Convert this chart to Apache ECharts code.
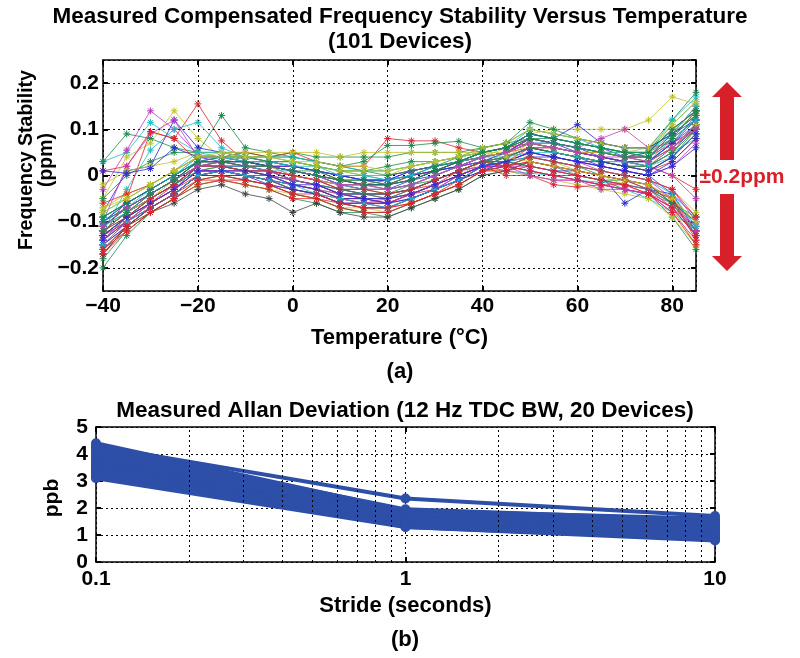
<!DOCTYPE html>
<html>
<head>
<meta charset="utf-8">
<script src="https://cdn.jsdelivr.net/npm/echarts@6/dist/echarts.min.js"></script>
<style>
html,body{margin:0;padding:0;background:#fff}
#main{width:800px;height:658px}
</style>
</head>
<body>
<div id="main"></div>
<script>
// (a) temperature sweep, one row per device (ppm)
var temps = [-40,-35,-30,-25,-20,-15,-10,-5,0,5,10,15,20,25,30,35,40,45,50,55,60,65,70,75,80,85];
var stability = [
	[-.17,-.11,-.07,-.04,.00, .01,.00,-.01,-.03,-.04, -.06,-.07,-.07,-.05,-.03, .00,.02,.04,.06,.05, .04,.02,.01,.00,-.04, -.12],
	[-.14,-.09,-.05,-.02,.02, .02,.02,.01,.00,-.01, -.03,-.03,-.04,-.02,-.01, .01,.03,.05,.07,.06, .05,.04,.03,.03,.07, .13],
	[-.12,-.08,-.04,-.01,.03, .03,.03,.02,.02,.01, -.01,-.02,-.02,.00,.01, .02,.04,.05,.08,.07, .06,.05,.04,.04,.09, .15],
	[-.10,-.06,-.03,.00,.04, .04,.04,.04,.03,.02, .01,.00,.00,.01,.02, .03,.05,.06,.09,.08, .07,.06,.05,.05,.11, .16],
	[-.15,-.10,-.06,-.03,.01, .01,.00,.00,-.02,-.03, -.05,-.06,-.05,-.04,-.02, .00,.02,.03,.05,.04, .03,.01,.00,-.01,-.05, -.13],
	[-.16,-.11,-.08,-.05,-.01, .00,-.01,-.02,-.04,-.05, -.07,-.08,-.08,-.06,-.04, -.02,.01,.02,.04,.03, .01,.00,-.02,-.03,-.07, -.15],
	[-.13,-.09,-.06,-.03,.02, .02,.02,.01,.00,-.01, -.02,-.03,-.03,-.02,.00, .02,.03,.04,.06,.05, .04,.03,.02,.02,.06, .11],
	[-.11,-.07,-.04,-.01,.03, .04,.03,.03,.02,.01, .00,-.01,-.01,.01,.02, .03,.05,.06,.09,.08, .07,.06,.04,.05,.10, .14],
	[-.18,-.12,-.08,-.05,-.02, -.01,-.02,-.03,-.05,-.06, -.08,-.08,-.09,-.07,-.05, -.03,.00,.01,.03,.02, .00,-.01,-.03,-.04,-.09, -.16],
	[-.14,-.10,-.06,-.02,.02, .03,.02,.01,-.01,-.02, -.04,-.04,-.05,-.03,-.02, .01,.03,.04,.06,.05, .04,.03,.02,.01,.04, .09],
	[.03,.05,.115,.08,.05, .04,.04,.03,.03,.02, .01,.01,.01,.02,.03, .04,.05,.06,.07,.06, .05,.04,.03,.03,.08, .12],
	[-.03,.055,.14,.10,.045, .04,.03,.03,.02,.01, .00,.00,.00,.01,.02, .03,.04,.05,.08,.07, .06,.05,.04,.04,.09, .13],
	[.03,.09,.08,.06,.05, .05,.05,.04,.05,.04, .04,.04,.04,.05,.05, .05,.06,.07,.10,.09, .08,.07,.06,.06,.12, .18],
	[.01,.02,.095,.08,.155, .075,.03,.02,.01,.00, -.01,-.02,-.01,.00,.01, .03,.04,.05,.07,.06, .05,.05,.05,.04,.07, .10],
	[-.05,.04,.07,.14,.08, .04,.03,.02,.01,.00, -.01,-.01,-.02,.00,.01, .03,.04,.06,.09,.10, .10,.10,.10,.12,.17, .155],
	[-.12,-.03,.055,.10,.115, .06,.04,.03,.02,.01, .00,-.01,-.01,.00,.01, .02,.03,.04,.06,.05, .04,.03,.03,.02,.05, .08],
	[-.05,.00,.03,.05,.05, .13,.06,.05,.04,.03, .02,.01,.02,.03,.03, .04,.05,.06,.09,.08, .07,.06,.05,.05,.08, .12],
	[-.08,.01,.02,.12,.06, .05,.04,.03,.02,.01, .00,-.01,-.01,.01,.02, .03,.04,.05,.08,.07, .06,.04,.03,.03,.06, .11],
	[-.10,.02,.09,.12,.04, .04,.03,.02,.02,.01, .00,.00,.00,.01,.02, .03,.05,.06,.08,.07, .06,.05,.04,.04,.08, .14],
	[-.13,-.05,.095,.08,.03, .03,.02,.02,.01,.00, -.01,-.02,-.02,.00,.01, .03,.04,.05,.06,.06, .05,.04,.03,.03,.06, .10],
	[-.12,-.08,-.05,-.02,.01, .02,.01,.00,-.02,-.03, -.04,-.05,-.05,-.04,-.02, .00,.02,.02,.01,.00, -.01,-.02,-.03,-.05,-.08, -.12],
	[-.10,-.07,-.04,-.01,.02, .02,.02,.01,.00,-.01, -.03,-.04,-.04,-.03,-.01, .01,.02,.01,.00,-.01, -.01,-.02,-.03,-.04,-.06, -.10],
	[-.16,-.12,-.08,-.05,-.02, -.01,-.02,-.03,-.04,-.05, -.07,-.07,-.08,-.06,-.04, -.02,.01,.01,.00,-.01, -.02,-.03,-.04,-.05,-.09, -.15],
	[-.09,-.06,-.03,.00,.03, .03,.03,.02,.01,.00, -.02,-.02,-.03,-.01,.00, .02,.03,.03,.02,.01, .01,.00,-.06,-.03,-.04, -.09],
	[-.15,-.10,-.06,-.03,.00, .01,.00,-.01,-.03,-.04, -.05,-.06,-.06,-.04,-.02, .00,.02,.00,.00,-.02, -.025,-.02,-.03,-.04,-.07, -.13],
	[-.13,-.09,-.06,-.03,.01, .01,.00,-.01,-.02,-.03, -.05,-.05,-.06,-.04,-.02, .00,.02,.01,.005,.00, -.01,-.015,-.02,-.03,-.05, -.11],
	[-.11,-.08,-.05,-.02,.02, .02,.01,.01,-.01,-.02, -.04,-.04,-.05,-.03,-.01, .01,.03,.02,.01,.00, .00,-.01,-.01,-.03,-.06, -.10],
	[-.14,-.10,-.07,-.04,.00, .00,-.01,-.02,-.03,-.04, -.06,-.06,-.07,-.05,-.03, .00,.02,.02,.01,.00, -.01,-.02,-.03,-.04,-.08, -.14],
	[-.07,-.04,-.02,.01,.04, .04,.04,.03,.03,.02, .01,.00,.00,.02,.03, .04,.05,.05,.04,.03, .02,.01,.00,-.01,-.03, -.08],
	[-.17,-.11,-.08,-.06,-.03, -.02,-.04,-.05,-.08,-.06, -.08,-.09,-.09,-.07,-.05, -.03,.00,.01,.03,.02, .01,.00,-.01,-.02,-.06, -.13],
	[-.06,-.04,-.02,.01,.04, .04,.05,.04,.05,.03, .02,.02,.08,.075,.075, .06,.05,.06,.07,.06, .05,.04,.03,.02,.00, -.03],
	[-.09,-.06,-.03,.00,.03, .03,.04,.04,.04,.03, .02,.03,.065,.065,.07, .074,.06,.07,.08,.07, .06,.05,.04,.05,.10, .14],
	[-.02,.01,.02,.03,.05, .05,.05,.05,.05,.05, .04,.05,.05,.05,.05, .05,.05,.06,.08,.07, .06,.05,.05,.06,.10, .13],
	[-.12,-.08,-.05,-.02,.02, .02,.01,.00,-.01,-.02, -.04,-.04,-.04,-.03,-.01, .01,.03,.05,.08,.07, .05,.04,.03,.02,.05, .11],
	[-.15,-.11,-.07,-.04,.00, .01,.00,-.01,-.03,-.04, -.06,-.06,-.07,-.05,-.03, -.01,.02,.03,.05,.04, .03,.02,.01,.00,.02, .07],
	[-.09,-.06,-.03,.00,.04, .04,.03,.03,.02,.01, .00,.00,-.01,.00,.02, .03,.05,.06,.10,.09, .08,.06,.05,.05,.12, .17],
	[-.13,-.09,-.06,-.03,.01, .01,.01,.00,-.02,-.03, -.05,-.05,-.06,-.04,-.02, .00,.02,.03,.06,.05, .04,.03,.02,.01,.03, .08],
	[-.16,-.11,-.07,-.04,.00, .00,.00,-.01,-.03,-.04, -.06,-.07,-.07,-.05,-.03, -.01,.02,.04,.06,.05, .04,.03,.02,.01,.04, .10],
	[-.20,-.13,-.08,-.05,-.01, .00,-.01,-.02,-.04,-.05, -.07,-.08,-.08,-.06,-.04, -.02,.01,.02,.04,.03, .02,.00,-.01,-.02,-.06, -.12],
	[-.11,-.07,-.04,-.01,.03, .03,.03,.02,.01,.00, -.01,-.02,-.02,-.01,.01, .02,.04,.05,.07,.07, .06,.05,.04,.03,.07, .12],
	[-.14,-.10,-.06,-.03,.01, .02,.01,.00,-.02,-.03, -.04,-.05,-.05,-.04,-.02, .00,.03,.04,.07,.06, .05,.04,.03,.02,.05, .10],
	[-.08,-.05,-.02,.01,.05, .05,.04,.04,.04,.03, .02,.01,.01,.02,.03, .04,.05,.06,.09,.08, .07,.06,.05,.05,.09, .15],
	[-.12,-.09,-.05,-.02,.02, .02,.01,.01,-.01,-.02, -.03,-.04,-.04,-.03,-.01, .01,.03,.03,.02,.01, .00,-.01,-.02,-.03,-.06, -.09],
	[-.10,-.07,-.04,-.01,.02, .03,.02,.02,.00,-.01, -.02,-.03,-.03,-.02,.00, .02,.03,.04,.06,.06, .05,.04,.03,.02,.00, -.05],
	[-.13,-.10,-.07,-.04,.00, .01,.00,-.01,-.02,-.03, -.05,-.06,-.06,-.04,-.03, -.01,.02,.02,.03,.02, .01,.00,-.01,-.03,-.05, -.12],
	[-.12,-.08,-.05,-.02,.02, .02,.01,.01,-.01,-.02, -.03,-.04,-.04,-.03,-.01, .01,.02,.02,.00,-.01, -.01,-.03,-.03,-.04,-.07, -.11],
	[-.11,-.07,-.04,-.01,.03, .03,.03,.02,.01,.00, -.01,-.01,-.02,.00,.02, .04,.06,.07,.115,.10, .08,.07,.06,.06,.09, .13],
	[-.10,-.06,-.03,.00,.03, .03,.02,.02,.01,.00, -.02,-.02,-.02,-.01,.01, .03,.05,.06,.09,.08, .11,.07,.06,.06,.09, .12],
	[-.12,-.08,-.05,-.02,.02, .02,.02,.01,.00,-.01, -.02,-.03,-.03,-.02,.00, .02,.04,.05,.08,.07, .06,.08,.10,.06,.07, .10],
	[.01,.005,.015,.06,.04, .03,.03,.02,.02,.01, .00,-.01,-.01,.00,.01, .02,.04,.05,.07,.06, .05,.04,.03,.03,.07, .11],
	[-.13,-.09,-.05,-.02,.01, .02,.01,.00,-.01,-.02, -.03,-.04,-.04,-.03,-.01, .01,.03,.04,.06,.05, .04,.03,.02,.02,.05, .10],
	[-.16,-.12,-.08,-.05,-.01, -.01,-.01,-.02,-.04,-.05, -.06,-.07,-.07,-.06,-.04, -.01,.01,.02,.03,.02, .01,.00,-.01,-.02,-.05, -.14],
	[-.10,-.07,-.03,.00,.03, .04,.03,.03,.02,.02, .00,.00,-.01,.00,.02, .03,.04,.05,.07,.07, .06,.05,.05,.04,.08, .12],
	[-.14,-.09,-.06,-.03,.01, .01,.01,.00,-.01,-.02, -.04,-.05,-.05,-.04,-.02, .00,.02,.02,.02,.01, .00,-.01,-.02,-.03,-.07, -.12],
	[-.12,-.08,-.05,-.01,.02, .03,.02,.02,.00,-.01, -.02,-.02,-.03,-.02,.00, .02,.04,.05,.07,.06, .05,.05,.04,.03,.06, .11],
	[-.15,-.11,-.07,-.04,.00, .00,.00,-.02,-.03,-.04, -.06,-.06,-.06,-.05,-.03, -.01,.01,.03,.05,.04, .03,.02,.01,.00,.03, .08],
	[-.09,-.06,-.03,.00,.03, .04,.04,.03,.03,.02, .01,.01,.00,.01,.02, .03,.05,.06,.08,.08, .07,.06,.05,.05,.10, .14],
	[-.17,-.12,-.08,-.05,-.02, -.01,-.02,-.03,-.05,-.05, -.07,-.08,-.08,-.06,-.04, -.02,.01,.01,.02,.01, .00,-.01,-.02,-.04,-.08, -.15],
	[-.11,-.08,-.04,-.01,.02, .02,.02,.01,.01,.00, -.02,-.03,-.03,-.02,.00, .02,.04,.04,.05,.05, .04,.03,.03,.02,.04, .09],
	[-.13,-.10,-.06,-.03,.01, .01,.00,.00,-.02,-.03, -.04,-.05,-.06,-.04,-.02, .00,.02,.03,.04,.03, .02,.01,.00,-.01,-.03, -.10],
	[-.08,-.05,-.02,.01,.04, .05,.04,.04,.03,.03, .02,.02,.01,.02,.03, .04,.06,.07,.10,.09, .08,.07,.06,.06,.11, .16],
	[-.14,-.10,-.07,-.04,.00, .01,.00,-.01,-.02,-.03, -.05,-.05,-.06,-.05,-.03, -.01,.02,.03,.04,.04, .03,.02,.01,.00,.02, .06],
	[-.12,-.09,-.05,-.02,.02, .02,.01,.01,.00,-.01, -.03,-.03,-.04,-.03,-.01, .01,.03,.02,.01,.00, -.01,-.02,-.02,-.04,-.07, -.13],
	[-.10,-.07,-.04,-.01,.02, .03,.03,.02,.01,.01, -.01,-.01,-.02,-.01,.01, .03,.05,.06,.09,.08, .07,.06,.05,.04,.09, .13],
	[-.15,-.10,-.07,-.04,.00, .01,.00,-.01,-.02,-.04, -.05,-.06,-.07,-.05,-.03, -.01,.02,.03,.04,.03, .02,.01,.00,-.01,-.04, -.11],
	[-.11,-.07,-.04,-.01,.02, .03,.02,.02,.01,.00, -.02,-.02,-.03,-.02,.00, .02,.04,.05,.07,.06, .05,.04,.04,.03,.06, .10],
	[-.13,-.09,-.06,-.03,.01, .01,.01,.00,-.02,-.02, -.04,-.05,-.05,-.04,-.02, .00,.02,.03,.05,.04, .03,.03,.02,.01,.04, .09],
	[-.07,-.05,-.02,.01,.04, .04,.04,.04,.03,.02, .01,.01,.01,.02,.03, .04,.05,.04,.03,.02, .01,.00,-.01,-.02,-.05, -.10],
	[-.16,-.11,-.07,-.04,-.01, .00,-.01,-.02,-.04,-.04, -.06,-.07,-.07,-.06,-.04, -.02,.01,.02,.04,.03, .02,.01,.00,-.01,-.03, -.09],
	[-.12,-.08,-.04,-.01,.03, .03,.02,.02,.01,.00, -.01,-.02,-.02,-.01,.01, .03,.05,.06,.08,.07, .06,.05,.04,.04,.08, .14]
];
// MATLAB-style colour letter per device line
var lineColorCodes = 'bgrcmykbgrcmgrycgbmrcmybrcgmykrgybmcrggbycgmrmgbmbgrcmybgrcmybrgcmbyrg';

// (b) Allan deviation, 20 devices (ppb) at each stride
var strides = [0.1, 1, 10];
var allanAt01 = [4.40,4.30,4.20,4.10,4.00,3.90,3.80,3.75,3.70,3.60,3.55,3.50,3.45,3.40,3.35,3.30,3.20,3.15,3.10,4.25];
var allanAt1  = [1.90,2.35,1.80,1.70,1.75,1.60,1.55,1.50,1.45,1.50,1.40,1.60,1.35,1.45,1.30,1.50,1.40,1.35,1.30,1.95];
var allanAt10 = [1.60,1.70,1.50,1.40,1.30,1.20,1.10,1.00,0.95,1.10,0.90,1.20,0.85,1.00,0.80,1.30,1.00,0.90,0.85,1.55];
var minorStrides = [0.2,0.3,0.4,0.5,0.6,0.7,0.8,0.9,2,3,4,5,6,7,8,9];

var colorOf = {b:'#2a2ad6', g:'#1a8a4a', r:'#e0222c', c:'#1cbcc4', m:'#c03ac0', y:'#c2c22a', k:'#404040'};
var fontFam = '"Liberation Sans", Arial, sans-serif';
var starPath = 'path://M0,-5L0,5M-5,0L5,0M-3.5,-3.5L3.5,3.5M-3.5,3.5L3.5,-3.5';

function signedLabel(digits){
	return function(v){
		if (Math.abs(v) < 1e-9) return '0';
		return (v < 0 ? '\u2212' : '') + Math.abs(v).toFixed(digits);
	};
}

var txt = {color:'#000', fontFamily: fontFam, fontWeight:'bold', fontSize:21};
var nameTxt = {color:'#000', fontFamily: fontFam, fontWeight:'bold', fontSize:22};
var dotted = {type:[2,3], color:'#000', width:1};
var boxLine = {show:true, onZero:false, lineStyle:{color:'#000', width:1.5}};
var inTick = {show:true, inside:true, length:5, lineStyle:{color:'#000', width:2}};

function mirrorAxis(grid, pos, base){
	var a = {gridIndex:grid, position:pos, axisLine:boxLine, axisTick:inTick,
		axisLabel:{show:false}, splitLine:{show:false}};
	for (var k in base) a[k] = base[k];
	return a;
}

var tempScale = {type:'value', min:-40, max:85, interval:20};
var ppmScale = {type:'value', min:-0.25, max:0.25, splitNumber:5};
var strideScale = {type:'log', logBase:10, min:0.1, max:10};
var ppbScale = {type:'value', min:0, max:5, interval:1};

var series = [];
for (var i = 0; i < stability.length; i++) {
	var c = colorOf[lineColorCodes.charAt(i)] || '#2a2ad6';
	series.push({
		type:'line', xAxisIndex:0, yAxisIndex:0,
		data: temps.map(function(t, j){ return [t, stability[i][j]]; }),
		symbol: starPath, symbolSize:7, showSymbol:true,
		lineStyle:{color:c, width:0.8},
		itemStyle:{color:c, borderColor:c, borderWidth:1},
		animation:false, silent:true
	});
}
for (var d = 0; d < allanAt01.length; d++) {
	var s = {
		type:'line', xAxisIndex:2, yAxisIndex:2,
		data: [[strides[0], allanAt01[d]], [strides[1], allanAt1[d]], [strides[2], allanAt10[d]]],
		symbol:'circle', symbolSize:10,
		lineStyle:{color:'#2d4fa8', width:4},
		itemStyle:{color:'#2d4fa8'},
		animation:false, silent:true
	};
	if (d === 0) {
		s.markLine = {
			silent:true, symbol:['none','none'], label:{show:false},
			lineStyle: dotted,
			data: minorStrides.map(function(v){ return {xAxis:v}; })
		};
	}
	series.push(s);
}

var option = {
	backgroundColor:'#fff',
	animation:false,
	title:[
		{text:'Measured Compensated Frequency Stability Versus Temperature\n(101 Devices)',
		 left:'center', top:4, padding:0,
		 textStyle:{color:'#000', fontFamily:fontFam, fontWeight:'bold', fontSize:22.5, lineHeight:25}},
		{text:'Measured Allan Deviation (12 Hz TDC BW, 20 Devices)',
		 left:405, textAlign:'center', top:399, padding:0,
		 textStyle:{color:'#000', fontFamily:fontFam, fontWeight:'bold', fontSize:22.5}}
	],
	grid:[
		{left:103, top:60, width:593, height:231},
		{left:96, top:427, width:619, height:135}
	],
	xAxis:[
		Object.assign({gridIndex:0, position:'bottom', axisLine:boxLine, axisTick:inTick,
			axisLabel:Object.assign({margin:5, showMinLabel:true, showMaxLabel:false, formatter:signedLabel(0)}, txt),
			splitLine:{show:true, lineStyle:dotted},
			name:'Temperature (\u00B0C)', nameLocation:'middle', nameGap:36,
			nameTextStyle:nameTxt}, tempScale),
		mirrorAxis(0, 'top', tempScale),
		Object.assign({gridIndex:1, position:'bottom', axisLine:boxLine, axisTick:inTick,
			axisLabel:Object.assign({margin:7}, txt),
			splitLine:{show:true, lineStyle:dotted},
			name:'Stride (seconds)', nameLocation:'middle', nameGap:33,
			nameTextStyle:nameTxt}, strideScale),
		mirrorAxis(1, 'top', strideScale)
	],
	yAxis:[
		Object.assign({gridIndex:0, position:'left', axisLine:boxLine, axisTick:inTick,
			axisLabel:Object.assign({margin:4, showMinLabel:false, showMaxLabel:false, formatter:signedLabel(1)}, txt),
			splitLine:{show:true, lineStyle:dotted}}, ppmScale),
		mirrorAxis(0, 'right', ppmScale),
		Object.assign({gridIndex:1, position:'left', axisLine:boxLine, axisTick:inTick,
			axisLabel:Object.assign({margin:8}, txt),
			splitLine:{show:true, lineStyle:dotted}}, ppbScale),
		mirrorAxis(1, 'right', ppbScale)
	],
	graphic:[
		{type:'text', x:37, y:160, rotation:Math.PI/2,
		 style:{text:'Frequency Stability\n(ppm)', fill:'#000', font:'bold 19.5px ' + fontFam,
		 	align:'center', verticalAlign:'middle', lineHeight:20}},
		{type:'text', x:52, y:498, rotation:Math.PI/2,
		 style:{text:'ppb', fill:'#000', font:'bold 21px ' + fontFam, align:'center', verticalAlign:'middle'}},
		{type:'text', x:400, y:372,
		 style:{text:'(a)', fill:'#000', font:'bold 22px ' + fontFam, align:'center', verticalAlign:'middle'}},
		{type:'text', x:405, y:640,
		 style:{text:'(b)', fill:'#000', font:'bold 22px ' + fontFam, align:'center', verticalAlign:'middle'}},
		{type:'text', x:742, y:177,
		 style:{text:'\u00B10.2ppm', fill:'#d8202a', font:'bold 21px ' + fontFam, align:'center', verticalAlign:'middle'}},
		{type:'polygon', shape:{points:[[727,82],[742,97],[734,97],[734,160],[720,160],[720,97],[712,97]]},
		 style:{fill:'#d8202a'}},
		{type:'polygon', shape:{points:[[727,271],[742,256],[734,256],[734,194],[720,194],[720,256],[712,256]]},
		 style:{fill:'#d8202a'}}
	],
	series: series
};

var myChart = echarts.init(document.getElementById('main'));
myChart.setOption(option);
</script>
</body>
</html>
